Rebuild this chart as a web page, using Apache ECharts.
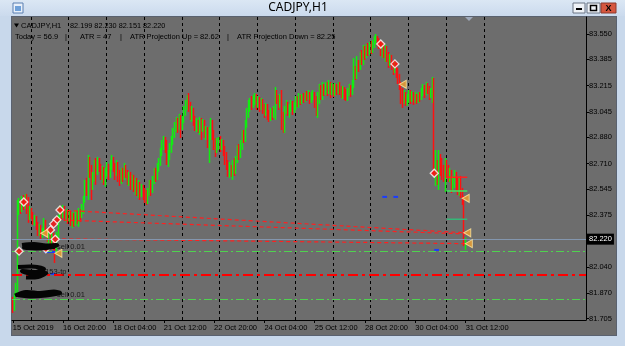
<!DOCTYPE html>
<html>
<head>
<meta charset="utf-8">
<script src="https://cdn.jsdelivr.net/npm/echarts@6/dist/echarts.min.js"></script>
<style>
html, body { margin: 0; padding: 0; background: #c8d8eb; }
#frame { position: absolute; left: 0; top: 0; width: 625px; height: 346px; background: #c8d8eb; }
#titlebar { position: absolute; left: 0; top: 0; width: 625px; height: 16px; background: linear-gradient(#dbe7f4, #cbdaed); }
#gray { position: absolute; left: 11px; top: 16px; width: 604px; height: 318px; background: #6d6d6d; border: 1px solid #5a6270; }
#main { position: absolute; left: 0; top: 0; width: 625px; height: 346px; }
</style>
</head>
<body>
<div id="frame"><div id="titlebar"></div><div id="gray"></div></div>
<div id="main"></div>
<script>
// CADJPY H1, 15 Oct 2019 12:00 .. 31 Oct 2019 12:00 (289 bars)
var opens = [
81.826,81.761,81.859,81.924,82.442,82.455,82.422,82.474,82.442,82.487,82.409,82.357,
82.396,82.377,82.332,82.357,82.306,82.267,82.293,82.241,82.280,82.319,82.267,82.228,
82.254,82.215,82.241,82.183,82.137,82.248,82.357,82.409,82.383,82.415,82.370,82.396,
82.357,82.383,82.345,82.370,82.332,82.383,82.351,82.396,82.370,82.422,82.474,82.572,
82.539,82.733,82.656,82.572,82.617,82.701,82.669,82.720,82.682,82.637,82.669,82.617,
82.656,82.682,82.637,82.695,82.733,82.682,82.656,82.701,82.637,82.604,82.656,82.630,
82.682,82.643,82.604,82.630,82.578,82.617,82.565,82.591,82.539,82.572,82.526,82.552,
82.513,82.500,82.474,82.526,82.572,82.539,82.604,82.656,82.617,82.682,82.720,82.785,
82.830,82.863,82.798,82.733,82.766,82.811,82.863,82.915,82.941,82.980,82.960,83.006,
82.954,82.993,83.045,83.090,83.122,83.071,83.025,83.057,82.993,82.941,82.967,82.941,
82.993,82.941,82.980,82.902,82.928,82.863,82.915,82.960,82.902,82.850,82.798,82.830,
82.863,82.824,82.850,82.798,82.746,82.701,82.656,82.682,82.643,82.701,82.669,82.733,
82.798,82.766,82.830,82.902,82.876,82.960,83.045,83.071,83.110,83.084,83.122,83.148,
83.096,83.122,83.084,83.110,83.071,83.045,83.077,83.025,83.006,83.045,83.019,83.057,
83.154,83.122,83.096,83.135,83.006,82.960,83.057,83.084,83.045,83.071,83.096,83.057,
83.084,83.122,83.103,83.135,83.116,83.141,83.122,83.154,83.135,83.161,83.122,83.148,
83.161,83.122,83.057,83.135,83.187,83.148,83.200,83.174,83.213,83.187,83.219,83.174,
83.200,83.174,83.206,83.180,83.213,83.187,83.161,83.187,83.154,83.135,83.174,83.200,
83.174,83.219,83.304,83.278,83.349,83.330,83.394,83.369,83.433,83.407,83.459,83.433,
83.472,83.446,83.485,83.511,83.524,83.498,83.479,83.446,83.472,83.433,83.459,83.407,
83.369,83.394,83.349,83.317,83.343,83.304,83.265,83.213,83.174,83.122,83.148,83.110,
83.135,83.161,83.135,83.154,83.122,83.148,83.122,83.154,83.135,83.174,83.200,83.167,
83.213,83.187,83.154,83.174,83.252,82.656,82.701,82.617,82.746,82.701,82.669,82.637,
82.720,82.669,82.630,82.656,82.565,82.591,82.643,82.591,82.552,82.604,82.539,82.474,
82.199];
var closes = [
81.761,81.859,81.924,82.442,82.455,82.422,82.474,82.442,82.487,82.409,82.357,82.396,
82.377,82.332,82.357,82.306,82.267,82.293,82.241,82.280,82.319,82.267,82.228,82.254,
82.215,82.241,82.183,82.137,82.248,82.357,82.409,82.383,82.415,82.370,82.396,82.357,
82.383,82.345,82.370,82.332,82.383,82.351,82.396,82.370,82.422,82.474,82.572,82.539,
82.733,82.656,82.572,82.617,82.701,82.669,82.720,82.682,82.637,82.669,82.617,82.656,
82.682,82.637,82.695,82.733,82.682,82.656,82.701,82.637,82.604,82.656,82.630,82.682,
82.643,82.604,82.630,82.578,82.617,82.565,82.591,82.539,82.572,82.526,82.552,82.513,
82.500,82.474,82.526,82.572,82.539,82.604,82.656,82.617,82.682,82.720,82.785,82.830,
82.863,82.798,82.733,82.766,82.811,82.863,82.915,82.941,82.980,82.960,83.006,82.954,
82.993,83.045,83.090,83.122,83.071,83.025,83.057,82.993,82.941,82.967,82.941,82.993,
82.941,82.980,82.902,82.928,82.863,82.915,82.960,82.902,82.850,82.798,82.830,82.863,
82.824,82.850,82.798,82.746,82.701,82.656,82.682,82.643,82.701,82.669,82.733,82.798,
82.766,82.830,82.902,82.876,82.960,83.045,83.071,83.110,83.084,83.122,83.148,83.096,
83.122,83.084,83.110,83.071,83.045,83.077,83.025,83.006,83.045,83.019,83.057,83.154,
83.122,83.096,83.135,83.006,82.960,83.057,83.084,83.045,83.071,83.096,83.057,83.084,
83.122,83.103,83.135,83.116,83.141,83.122,83.154,83.135,83.161,83.122,83.148,83.161,
83.122,83.057,83.135,83.187,83.148,83.200,83.174,83.213,83.187,83.219,83.174,83.200,
83.174,83.206,83.180,83.213,83.187,83.161,83.187,83.154,83.135,83.174,83.200,83.174,
83.219,83.304,83.278,83.349,83.330,83.394,83.369,83.433,83.407,83.459,83.433,83.472,
83.446,83.485,83.511,83.524,83.498,83.479,83.446,83.472,83.433,83.459,83.407,83.369,
83.394,83.349,83.317,83.343,83.304,83.265,83.213,83.174,83.122,83.148,83.110,83.135,
83.161,83.135,83.154,83.122,83.148,83.122,83.154,83.135,83.174,83.200,83.167,83.213,
83.187,83.154,83.174,83.252,82.656,82.701,82.617,82.746,82.701,82.669,82.637,82.720,
82.669,82.630,82.656,82.565,82.591,82.643,82.591,82.552,82.604,82.539,82.474,82.199,
82.220];
var highs = [
81.846,81.872,81.937,82.474,82.487,82.474,82.500,82.506,82.513,82.513,82.493,82.435,
82.422,82.396,82.377,82.370,82.332,82.319,82.313,82.293,82.357,82.345,82.293,82.280,
82.274,82.267,82.261,82.215,82.267,82.377,82.435,82.429,82.442,82.435,82.415,82.409,
82.409,82.403,82.396,82.390,82.409,82.403,82.422,82.415,82.448,82.500,82.604,82.617,
82.766,82.753,82.701,82.656,82.733,82.746,82.753,82.746,82.708,82.695,82.688,82.682,
82.720,82.708,82.733,82.766,82.753,82.714,82.733,82.720,82.669,82.682,82.682,82.714,
82.701,82.669,82.656,82.656,82.637,82.637,82.617,82.617,82.604,82.591,82.578,82.572,
82.552,82.539,82.552,82.604,82.604,82.630,82.682,82.682,82.714,82.746,82.811,82.863,
82.889,82.882,82.863,82.798,82.843,82.889,82.941,82.980,83.012,83.006,83.032,83.025,
83.019,83.084,83.122,83.154,83.167,83.110,83.084,83.071,83.019,83.006,82.993,83.012,
83.006,82.999,82.993,82.954,82.947,82.947,83.006,82.993,82.928,82.876,82.876,82.882,
82.889,82.869,82.863,82.824,82.785,82.733,82.720,82.701,82.733,82.746,82.759,82.830,
82.837,82.863,82.928,82.928,82.993,83.071,83.122,83.135,83.148,83.154,83.167,83.161,
83.148,83.141,83.135,83.129,83.096,83.103,83.096,83.057,83.071,83.071,83.084,83.206,
83.187,83.154,83.161,83.187,83.045,83.084,83.122,83.110,83.096,83.122,83.116,83.110,
83.148,83.148,83.167,83.154,83.161,83.167,83.174,83.180,83.187,83.174,83.174,83.187,
83.174,83.148,83.174,83.226,83.219,83.239,83.226,83.239,83.239,83.252,83.239,83.232,
83.226,83.232,83.226,83.239,83.239,83.213,83.213,83.206,83.193,83.200,83.226,83.219,
83.252,83.394,83.343,83.407,83.381,83.433,83.446,83.479,83.472,83.485,83.492,83.498,
83.505,83.511,83.537,83.550,83.537,83.524,83.498,83.492,83.485,83.479,83.472,83.433,
83.420,83.414,83.381,83.369,83.362,83.330,83.291,83.239,83.200,83.187,83.174,83.161,
83.187,83.187,83.180,83.174,83.174,83.161,83.174,83.174,83.200,83.226,83.219,83.239,
83.232,83.213,83.200,83.271,83.265,82.798,82.733,82.798,82.772,82.746,82.701,82.746,
82.733,82.701,82.682,82.669,82.630,82.669,82.656,82.617,82.624,82.630,82.552,82.500,
82.230];
var lows = [
81.742,81.755,81.839,81.846,82.377,82.383,82.396,82.409,82.415,82.383,82.326,82.345,
82.351,82.313,82.306,82.280,82.241,82.241,82.215,82.228,82.254,82.241,82.202,82.189,
82.176,82.170,82.150,82.066,82.118,82.228,82.332,82.345,82.357,82.338,82.332,82.319,
82.332,82.306,82.293,82.300,82.306,82.319,82.300,82.332,82.357,82.383,82.455,82.500,
82.474,82.617,82.474,82.539,82.591,82.572,82.637,82.656,82.604,82.585,82.572,82.559,
82.624,82.604,82.617,82.669,82.656,82.604,82.630,82.591,82.565,82.578,82.591,82.604,
82.617,82.572,82.565,82.539,82.539,82.526,82.506,82.500,82.487,82.474,82.493,82.474,
82.455,82.442,82.448,82.500,82.500,82.519,82.578,82.591,82.604,82.656,82.695,82.759,
82.798,82.779,82.701,82.688,82.733,82.779,82.830,82.876,82.915,82.909,82.928,82.876,
82.928,82.973,83.019,83.057,83.045,82.993,82.980,82.954,82.921,82.915,82.909,82.896,
82.863,82.915,82.876,82.863,82.811,82.714,82.863,82.863,82.798,82.753,82.779,82.798,
82.785,82.798,82.759,82.701,82.669,82.624,82.617,82.624,82.604,82.630,82.643,82.714,
82.733,82.746,82.798,82.843,82.850,82.941,83.006,83.045,83.057,83.071,83.090,83.057,
83.071,83.045,83.057,83.032,83.006,83.019,82.993,82.980,82.986,82.993,83.006,82.993,
83.096,83.057,83.071,82.928,82.909,82.909,83.032,83.019,83.006,83.045,83.025,83.038,
83.057,83.077,83.071,83.090,83.096,83.103,83.110,83.116,83.122,83.096,83.103,83.122,
83.071,83.019,83.006,83.096,83.122,83.122,83.148,83.154,83.148,83.161,83.135,83.154,
83.141,83.148,83.154,83.161,83.154,83.135,83.129,83.122,83.116,83.116,83.148,83.141,
83.154,83.200,83.252,83.258,83.304,83.317,83.349,83.349,83.381,83.394,83.407,83.414,
83.420,83.427,83.459,83.485,83.472,83.453,83.407,83.394,83.394,83.369,83.369,83.330,
83.343,83.317,83.284,83.297,83.265,83.226,83.187,83.096,83.071,83.096,83.084,83.084,
83.103,83.096,83.110,83.090,83.103,83.096,83.103,83.110,83.122,83.148,83.135,83.154,
83.161,83.122,83.135,83.103,82.637,82.565,82.572,82.539,82.630,82.604,82.591,82.526,
82.617,82.591,82.591,82.519,82.539,82.552,82.526,82.506,82.500,82.487,82.442,82.176,
82.151];

// time labels every 32 bars, right axis price labels
var tickLabels = ['15 Oct 2019','16 Oct 20:00','18 Oct 04:00','21 Oct 12:00','22 Oct 20:00',
                  '24 Oct 04:00','25 Oct 12:00','28 Oct 20:00','30 Oct 04:00','31 Oct 12:00'];
var priceTicks = [83.550,83.385,83.215,83.045,82.880,82.710,82.545,82.375,82.040,81.870,81.705];
var currentPrice = 82.220;
var levelsGreen = [82.140, 81.829];
var levelRed = 81.991;

// trade lines [startBar, startPrice, endBar, endPrice]
var tradeLines = [[30,82.409,288,82.261],[28,82.345,288,82.254],[27,82.222,289,82.191]];
var sellMarks = [[7,82.461],[30,82.409],[28,82.345],[26,82.319],[24,82.280],[27,82.219],
                 [4,82.142],[21,82.158],[234,83.485],[243,83.356],[268,82.647]];
var closeMarks = [[20,82.258],[29,82.128],[248,83.224],[288,82.485],[289,82.261],[290,82.191]];
var blueDashes = [[20,27,82.137],[24,27,81.995],[235,238,82.494],[242,245,82.494],[268,271,82.150]];
var stopLines = [[276,289,82.621,'#ff2020'],[276,289,82.532,'#3be860'],[276,289,82.349,'#35b878']];

var totalSlots = 365;
var categories = [];
for (var i = 0; i < totalSlots; i++) categories.push(String(i));
var candles = [];
for (var j = 0; j < closes.length; j++) candles.push([opens[j], closes[j], lows[j], highs[j]]);

var font = 'Liberation Sans';
var series = [{
    type: 'candlestick',
    data: candles,
    barWidth: 0.6,
    itemStyle: { color: '#10ee10', color0: '#ff1010', borderColor: '#10ee10', borderColor0: '#ff1010', borderWidth: 1.5 },
    markLine: {
        silent: true, symbol: 'none', animation: false,
        data: [
            { yAxis: levelsGreen[0], lineStyle: { color: '#4fd24f', width: 1, type: [8, 3, 2, 3] }, label: { show: false } },
            { yAxis: levelsGreen[1], lineStyle: { color: '#4fd24f', width: 1, type: [8, 3, 2, 3] }, label: { show: false } },
            { yAxis: levelRed, lineStyle: { color: '#ff0000', width: 2, type: [10, 4, 3, 4] }, label: { show: false } },
            { yAxis: currentPrice, lineStyle: { color: '#8396ae', width: 1, type: 'solid' },
              label: { show: true, position: 'end', distance: 1, formatter: currentPrice.toFixed(3),
                       color: '#fff', backgroundColor: '#000', padding: [2, 2, 1, 2], fontSize: 7.5, fontFamily: font } }
        ]
    }
}];
tradeLines.forEach(function (t) {
    series.push({ type: 'line', data: [[t[0], t[1]], [t[2], t[3]]], showSymbol: false, silent: true,
        lineStyle: { color: '#ff2020', width: 1.2, type: [4, 3] } });
});
blueDashes.forEach(function (b) {
    series.push({ type: 'line', data: [[b[0], b[2]], [b[1], b[2]]], showSymbol: false, silent: true,
        lineStyle: { color: '#1a3cff', width: 2 } });
});
stopLines.forEach(function (s) {
    series.push({ type: 'line', data: [[s[0], s[2]], [s[1], s[2]]], showSymbol: false, silent: true,
        lineStyle: { color: s[3], width: 1.6 } });
});
series.push({ type: 'scatter', data: sellMarks, symbol: 'diamond', symbolSize: 8, silent: true, z: 5,
    itemStyle: { color: '#ff1010', borderColor: '#ffffff', borderWidth: 1.3 } });
series.push({ type: 'scatter', data: closeMarks, symbol: 'triangle', symbolRotate: 90, symbolSize: [8, 7], silent: true, z: 5,
    itemStyle: { color: '#f0a030', borderColor: '#ffe9a0', borderWidth: 1 } });

function scribble(pts) {
    return { type: 'polyline', shape: { points: pts, smooth: 0.3 }, style: { stroke: '#050505', lineWidth: 4, fill: null }, z: 10 };
}
function txt(x, y, s, size, extra) {
    var st = { text: s, x: x, y: y, fill: '#000', font: size + 'px "' + font + '"', verticalAlign: 'middle' };
    if (extra) for (var k in extra) st[k] = extra[k];
    return { type: 'text', style: st, z: 10 };
}

var graphics = [
    // title bar
    { type: 'rect', shape: { x: 13, y: 3, width: 10, height: 10 }, style: { fill: '#e8f0fa', stroke: '#5a7fb0', lineWidth: 1 }, z: 10 },
    { type: 'rect', shape: { x: 15, y: 6, width: 6, height: 5 }, style: { fill: '#6fa0d8' }, z: 10 },
    txt(298, 8, 'CADJPY,H1', 12, { align: 'center', font: '12px "Noto Sans"' }),
    { type: 'rect', shape: { x: 573, y: 3, width: 12, height: 10 }, style: { fill: '#eef2f7', stroke: '#6a7484', lineWidth: 1 }, z: 10 },
    { type: 'rect', shape: { x: 576, y: 8, width: 6, height: 2 }, style: { fill: '#000' }, z: 10 },
    { type: 'rect', shape: { x: 587, y: 3, width: 13, height: 10 }, style: { fill: '#eef2f7', stroke: '#6a7484', lineWidth: 1 }, z: 10 },
    { type: 'rect', shape: { x: 590.5, y: 5.5, width: 6, height: 5 }, style: { fill: 'none', stroke: '#000', lineWidth: 1.5 }, z: 10 },
    { type: 'rect', shape: { x: 601, y: 3, width: 15, height: 10 }, style: { fill: '#d6573f', stroke: '#8a3a2e', lineWidth: 1 }, z: 10 },
    txt(608.5, 8.5, 'X', 9, { align: 'center', font: 'bold 9px "' + font + '"' }),
    // info lines top-left
    { type: 'polygon', shape: { points: [[14, 23.5], [19, 23.5], [16.5, 27.5]] }, style: { fill: '#000' }, z: 10 },
    txt(21, 26, 'CADJPY,H1', 7.5),
    txt(70, 26, '82.199 82.230 82.151 82.220', 7.3),
    txt(15, 36.5, 'Today = 56.9', 7.5),
    txt(65, 36.5, '|', 7.5),
    txt(80, 36.5, 'ATR = 47', 7.5),
    txt(120, 36.5, '|', 7.5),
    txt(130, 36.5, 'ATR Projection Up = 82.62', 7.5),
    txt(227, 36.5, '|', 7.5),
    txt(237, 36.5, 'ATR Projection Down = 82.25', 7.5),
    // chart shift marker
    { type: 'polygon', shape: { points: [[465, 17], [473, 17], [469, 21]] }, style: { fill: '#a0aabb' }, z: 10 },
    // order labels (partly blacked out)
    txt(57, 246.5, 'sell 0.01', 7.5, { fill: '#1a1a1a' }),
    txt(41, 271.5, '2153-tp', 7.5, { fill: '#1a1a1a' }),
    txt(57, 294.5, 'sell 0.01', 7.5, { fill: '#1a1a1a' }),
    scribble([[22, 245], [34, 244], [46, 245.5], [57, 245], [50, 247.5], [36, 248.5], [24, 247.5], [40, 246.5], [55, 247]]),
    scribble([[18, 267], [32, 266.5], [44, 269], [36, 272], [22, 271], [32, 274], [46, 273], [38, 277], [26, 277.5]]),
    scribble([[15, 295.5], [26, 292], [40, 293], [54, 291.5], [60, 293], [46, 295.5], [30, 296.5], [18, 295], [34, 294], [52, 294.5]])
];

var myChart = echarts.init(document.getElementById('main'));
var option = {
    animation: false,
    backgroundColor: 'transparent',
    textStyle: { fontFamily: font },
    grid: { left: 12, right: 39, top: 17, bottom: 26 },
    xAxis: {
        type: 'category',
        data: categories,
        boundaryGap: true,
        axisLine: { show: true, lineStyle: { color: '#000', width: 1 } },
        axisTick: { show: true, alignWithLabel: true, length: 3, lineStyle: { color: '#000' },
            interval: function (idx) { return idx % 32 === 0 && idx <= 288; } },
        axisLabel: { color: '#000', fontSize: 7.5, fontFamily: font, align: 'left', margin: 4,
            interval: function (idx) { return idx % 32 === 0 && idx <= 288; },
            formatter: function (v) { var k = (+v) / 32; return tickLabels[k] || ''; } },
        splitLine: { show: true, lineStyle: { color: '#000', width: 1, type: [3, 3] },
            interval: function (idx) { return idx >= 12 && idx <= 300 && (idx - 12) % 24 === 0; } }
    },
    yAxis: {
        type: 'value',
        position: 'right',
        min: 81.696,
        max: 83.660,
        axisLine: { show: true, lineStyle: { color: '#000', width: 1 } },
        axisTick: { show: true, length: 3, customValues: priceTicks, lineStyle: { color: '#000' } },
        axisLabel: { customValues: priceTicks, color: '#000', fontSize: 7.5, fontFamily: font, margin: 3,
            formatter: function (v) { return v.toFixed(3); } },
        splitLine: { show: false }
    },
    graphic: { elements: graphics },
    series: series
};
myChart.setOption(option);
</script>
</body>
</html>
